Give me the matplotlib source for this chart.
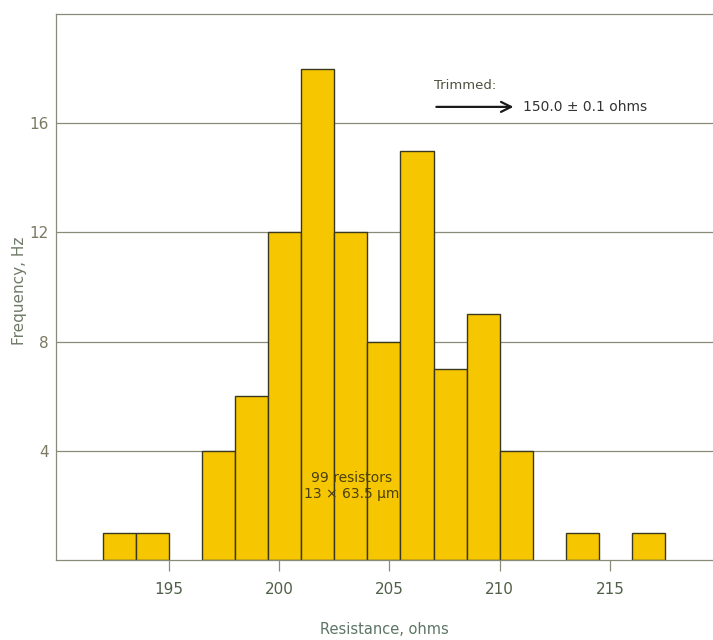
import numpy as np
import matplotlib.pyplot as plt

# histogram of 99 untrimmed resistors, bins 1.5 ohm wide starting at 192
bin_left = [192.0, 193.5, 195.0, 196.5, 198.0, 199.5, 201.0, 202.5, 204.0,
            205.5, 207.0, 208.5, 210.0, 211.5, 213.0, 214.5, 216.0]
counts = [1, 1, 0, 4, 6, 12, 18, 12, 8, 15, 7, 9, 4, 0, 1, 0, 1]
bin_w = 1.5
x_ticks = [195, 200, 205, 210, 215]
y_ticks = [4, 8, 12, 16]

BAR = "#F6C700"
EDGE = "#3b3820"
LINE = "#8a8a78"
TXT = "#4f5f48"

plt.rcParams['font.family'] = ['DejaVu Sans']
fig = plt.figure(figsize=(7.13, 6.4), dpi=100)
ax = fig.add_axes([0.0785, 0.125, 0.9215, 0.853])

ax.set_xlim(189.88, 219.67)
ax.set_ylim(0, 20)

for y in y_ticks:
    ax.axhline(y, color=LINE, lw=0.9, zorder=1)

nz = [(l, c) for l, c in zip(bin_left, counts) if c > 0]
ax.bar([l for l, c in nz], [c for l, c in nz], width=bin_w, align="edge",
       color=BAR, edgecolor=EDGE, linewidth=1.0, zorder=2)

ax.spines["right"].set_visible(False)
for s in ["left", "top", "bottom"]:
    ax.spines[s].set_color(LINE)
    ax.spines[s].set_linewidth(0.9)

ax.set_xticks(x_ticks)
ax.set_yticks(y_ticks)
ax.tick_params(axis="x", direction="out", length=8, width=0.9, color=LINE,
               labelsize=11, labelcolor=TXT, pad=8)
ax.tick_params(axis="y", length=0, labelsize=11, labelcolor="#7a7a62", pad=5)

ax.set_xlabel("Resistance, ohms", fontsize=10.5, color="#5d7563", labelpad=18)
# y label placed by hand so it isn't clipped at the left edge
fig.text(0.027, 0.545, "Frequency, Hz", rotation=90, ha="center", va="center",
         fontsize=11, color="#6d7a66")

ax.text(203.3, 2.7, "99 resistors\n13 × 63.5 µm", ha="center", va="center",
        fontsize=10, color="#4a3f10", linespacing=1.2, zorder=3)

ax.text(207.0, 17.4, "Trimmed:", fontsize=9.5, color="#505040", va="center")
ax.annotate("", xy=(210.75, 16.6), xytext=(207.0, 16.6),
            arrowprops=dict(arrowstyle="->", color="#1a1a1a", lw=1.6,
                            mutation_scale=18))
ax.text(211.05, 16.6, "150.0 ± 0.1 ohms", fontsize=10, color="#333333",
        va="center")

fig.savefig("out.png", dpi=100)
